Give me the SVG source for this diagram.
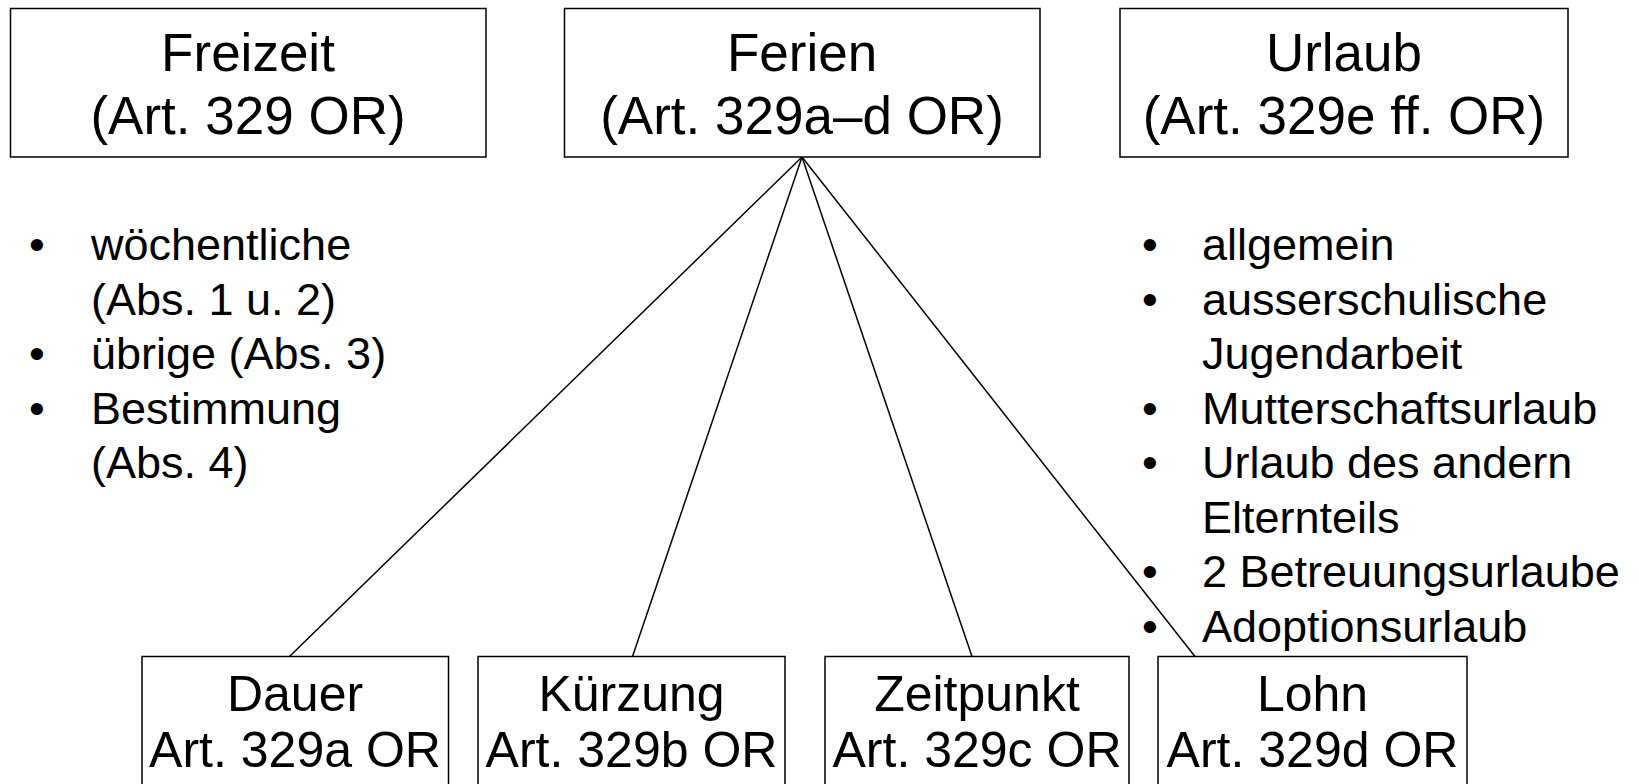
<svg xmlns="http://www.w3.org/2000/svg" width="1639" height="784" viewBox="0 0 1639 784">
<style>
.box{fill:#fff;stroke:#000;stroke-width:1.5}
.t{font-family:"Liberation Sans",Arial,sans-serif;fill:#000}
.big{font-size:53px;text-anchor:middle}
.mid{font-size:50px;text-anchor:middle}
.lst{font-size:45px}
.con{stroke:#000;stroke-width:1.5;fill:none}
</style>
<rect width="1639" height="784" fill="#fff"/>
<g id="connectors">
<line class="con" x1="802" y1="157" x2="289.5" y2="656.5"/>
<line class="con" x1="802" y1="157" x2="632.5" y2="656.5"/>
<line class="con" x1="802" y1="157" x2="972" y2="656.5"/>
<line class="con" x1="802" y1="157" x2="1195" y2="656.5"/>
</g>
<g id="freizeit">
<rect class="box" x="10.5" y="8.5" width="475.5" height="148.5"/>
<text class="t big" x="248" y="71">Freizeit</text>
<text class="t big" x="248" y="134">(Art. 329 OR)</text>
</g>
<g id="ferien">
<rect class="box" x="564.5" y="8.5" width="475.5" height="148.5"/>
<text class="t big" x="802" y="71">Ferien</text>
<text class="t big" x="802" y="134">(Art. 329a–d OR)</text>
</g>
<g id="urlaub">
<rect class="box" x="1120" y="8.5" width="448" height="148.5"/>
<text class="t big" x="1344" y="71">Urlaub</text>
<text class="t big" x="1344" y="134">(Art. 329e ff. OR)</text>
</g>
<g id="freizeit-list" class="t lst">
<text x="29" y="260">•</text><text x="91" y="260">wöchentliche</text>
<text x="91" y="315">(Abs. 1 u. 2)</text>
<text x="29" y="369">•</text><text x="91" y="369">übrige (Abs. 3)</text>
<text x="29" y="424">•</text><text x="91" y="424">Bestimmung</text>
<text x="91" y="478">(Abs. 4)</text>
</g>
<g id="urlaub-list" class="t lst">
<text x="1142" y="260">•</text><text x="1202" y="260">allgemein</text>
<text x="1142" y="315">•</text><text x="1202" y="315">ausserschulische</text>
<text x="1202" y="369">Jugendarbeit</text>
<text x="1142" y="424">•</text><text x="1202" y="424">Mutterschaftsurlaub</text>
<text x="1142" y="478">•</text><text x="1202" y="478">Urlaub des andern</text>
<text x="1202" y="533">Elternteils</text>
<text x="1142" y="587">•</text><text x="1202" y="587">2 Betreuungsurlaube</text>
<text x="1142" y="642">•</text><text x="1202" y="642">Adoptionsurlaub</text>
</g>
<g id="dauer">
<rect class="box" x="142" y="656.5" width="306.5" height="140"/>
<text class="t mid" x="295" y="711">Dauer</text>
<text class="t mid" x="295" y="767">Art. 329a OR</text>
</g>
<g id="kuerzung">
<rect class="box" x="478" y="656.5" width="307" height="140"/>
<text class="t mid" x="631.5" y="711">Kürzung</text>
<text class="t mid" x="631.5" y="767">Art. 329b OR</text>
</g>
<g id="zeitpunkt">
<rect class="box" x="825" y="656.5" width="304" height="140"/>
<text class="t mid" x="977" y="711">Zeitpunkt</text>
<text class="t mid" x="977" y="767">Art. 329c OR</text>
</g>
<g id="lohn">
<rect class="box" x="1158" y="656.5" width="309" height="140"/>
<text class="t mid" x="1312.5" y="711">Lohn</text>
<text class="t mid" x="1312.5" y="767">Art. 329d OR</text>
</g>
</svg>
